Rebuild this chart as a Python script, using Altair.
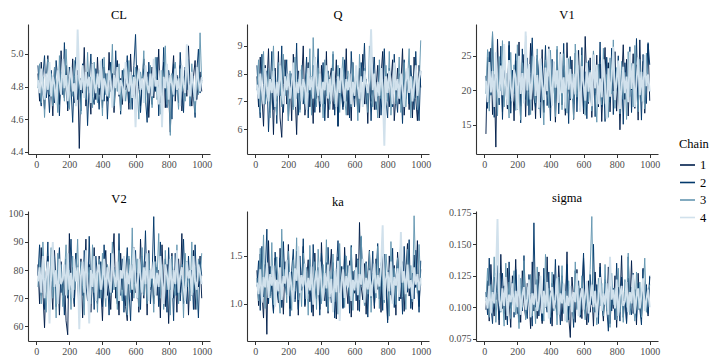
import altair as alt
import pandas as pd

chains = ["1", "2", "3", "4"]
chain_colors = ["#011f4b", "#03396c", "#6497b1", "#d1e1ec"]
chain_widths = [0.95, 0.95, 0.95, 1.9]
params = ["CL", "Q", "V1", "V2", "ka", "sigma"]
x_ticks = [0, 200, 400, 600, 800, 1000]

CL_1 = [4.88, 4.71, 4.95, 4.79, 4.66, 4.84, 4.99, 4.74, 4.83, 4.62, 4.91, 4.78, 4.87, 4.69, 5.02, 4.80, 4.73, 4.93, 4.65, 4.86, 4.77, 4.97, 4.70, 4.82, 4.90, 4.42, 4.85, 4.76, 5.04, 4.68, 4.89, 4.79, 4.63, 4.94, 4.81, 4.72, 4.98, 4.75, 4.86, 4.67, 4.92, 4.80, 4.71, 5.01, 4.77, 4.88, 4.64, 4.83, 4.96, 4.74, 4.85, 4.69, 4.90, 4.78, 4.82, 4.66, 5.00, 4.76, 4.87, 4.72, 4.93, 4.80, 4.68, 4.84, 4.97, 4.75, 4.89, 4.61, 4.83, 4.92, 4.73, 4.86, 4.79, 5.03, 4.70, 4.81, 4.95, 4.67, 4.88, 4.76, 4.52, 4.84, 4.99, 4.71, 4.87, 4.78, 4.93, 4.65, 4.82, 4.90, 4.74, 5.05, 4.79, 4.68, 4.86, 4.96, 4.72, 4.83, 4.89, 4.77]
CL_2 = [4.93, 4.76, 4.68, 4.87, 4.99, 4.73, 4.81, 4.64, 4.90, 4.78, 4.70, 4.96, 4.84, 4.62, 4.89, 4.75, 5.07, 4.80, 4.67, 4.92, 4.79, 4.58, 4.86, 4.98, 4.72, 4.83, 4.65, 4.94, 4.77, 4.88, 4.56, 4.82, 5.00, 4.74, 4.69, 4.91, 4.80, 4.66, 4.85, 4.97, 4.71, 4.88, 4.60, 4.83, 4.95, 4.77, 4.68, 5.02, 4.79, 4.86, 4.63, 4.90, 4.75, 4.84, 4.99, 4.70, 4.81, 4.66, 4.93, 5.12, 4.76, 4.87, 4.64, 4.82, 4.91, 4.73, 4.58, 4.95, 4.80, 4.69, 4.88, 4.77, 4.98, 4.62, 4.85, 4.72, 5.04, 4.79, 4.67, 4.90, 4.83, 4.60, 4.94, 4.75, 4.86, 4.70, 5.01, 4.81, 4.64, 4.92, 4.78, 4.97, 4.68, 4.87, 4.74, 4.61, 4.89, 5.03, 4.76, 4.84]
CL_3 = [4.79, 4.94, 4.70, 4.86, 4.61, 4.83, 4.97, 4.75, 4.88, 4.68, 4.92, 4.80, 4.64, 4.99, 4.77, 4.85, 4.71, 5.03, 4.82, 4.66, 4.89, 4.74, 4.96, 4.69, 4.87, 4.78, 4.63, 4.93, 4.81, 4.72, 5.01, 4.76, 4.86, 4.67, 4.95, 4.79, 4.70, 4.90, 4.84, 4.62, 4.98, 4.75, 4.88, 4.73, 4.82, 5.06, 4.68, 4.85, 4.77, 4.94, 4.65, 4.83, 4.91, 4.71, 4.80, 4.96, 4.66, 4.87, 4.74, 4.92, 4.79, 4.60, 4.89, 4.82, 5.02, 4.70, 4.86, 4.76, 4.93, 4.67, 4.84, 4.98, 4.72, 4.81, 4.63, 4.90, 4.78, 5.05, 4.69, 4.85, 4.50, 4.88, 4.74, 4.95, 4.80, 4.66, 4.91, 4.77, 4.86, 4.71, 5.00, 4.83, 4.68, 4.94, 4.79, 4.64, 4.89, 4.75, 5.13, 4.82]
CL_4 = [4.84, 4.76, 4.91, 4.80, 4.72, 4.88, 4.78, 4.95, 4.74, 4.86, 4.81, 4.69, 4.90, 4.83, 4.75, 4.97, 4.79, 4.87, 4.71, 4.84, 4.92, 4.77, 4.82, 4.68, 5.15, 4.85, 4.78, 4.93, 4.73, 4.89, 4.80, 4.86, 4.70, 4.94, 4.82, 4.76, 4.88, 4.79, 4.96, 4.72, 4.85, 4.81, 4.74, 4.90, 4.83, 4.67, 4.87, 4.79, 4.92, 4.75, 4.84, 4.80, 4.71, 4.95, 4.82, 4.77, 4.89, 4.73, 4.86, 4.55, 4.83, 4.91, 4.78, 4.85, 4.70, 4.93, 4.81, 4.76, 4.88, 4.74, 4.97, 4.80, 4.84, 4.69, 4.90, 4.55, 4.86, 4.79, 4.94, 4.72, 4.87, 4.82, 4.75, 4.91, 4.78, 4.85, 4.68, 4.93, 4.81, 4.76, 5.06, 4.83, 4.74, 4.89, 4.80, 4.71, 4.92, 4.84, 4.77, 4.86]

Q_1 = [7.9, 6.8, 8.6, 7.2, 6.1, 8.3, 7.5, 8.9, 6.6, 7.8, 5.8, 8.2, 7.0, 8.8, 6.4, 5.7, 7.6, 8.5, 6.9, 7.3, 8.0, 6.3, 8.7, 7.4, 5.8, 8.1, 6.7, 7.7, 9.0, 6.5, 7.2, 8.4, 6.8, 7.9, 6.2, 8.6, 7.1, 7.6, 6.6, 8.3, 7.4, 6.9, 8.8, 6.4, 7.8, 8.2, 6.7, 7.3, 8.5, 6.1, 7.7, 8.0, 6.8, 7.2, 8.9, 6.5, 7.9, 6.3, 8.4, 7.1, 7.6, 6.6, 8.2, 7.4, 8.7, 6.9, 7.8, 6.2, 8.1, 7.0, 8.6, 6.7, 7.5, 8.3, 6.4, 7.9, 8.8, 6.6, 7.3, 8.0, 6.8, 7.7, 8.5, 6.3, 7.2, 8.2, 6.9, 7.6, 8.9, 6.5, 7.4, 8.1, 6.7, 7.9, 6.4, 8.6, 7.1, 6.3, 8.3, 7.5]
Q_2 = [8.3, 7.1, 6.4, 8.7, 7.6, 6.9, 8.1, 5.9, 7.4, 8.8, 6.7, 7.9, 6.2, 8.4, 7.2, 9.0, 6.6, 7.8, 8.5, 6.3, 7.5, 8.0, 6.8, 7.3, 9.1, 6.5, 7.7, 8.2, 6.9, 7.4, 8.6, 6.4, 7.9, 7.1, 8.3, 6.6, 7.7, 8.9, 6.8, 7.2, 8.4, 6.3, 7.6, 8.1, 6.9, 7.4, 8.7, 6.5, 7.8, 6.1, 8.2, 7.3, 6.7, 8.5, 7.0, 7.9, 6.4, 8.8, 7.5, 6.8, 8.1, 7.2, 6.6, 8.4, 7.7, 9.1, 6.9, 7.4, 8.0, 6.3, 7.8, 8.6, 6.7, 7.2, 8.3, 6.5, 7.6, 8.9, 7.0, 6.4, 8.2, 7.5, 6.8, 8.7, 7.3, 6.6, 8.0, 7.7, 6.2, 8.5, 7.1, 7.9, 6.9, 8.3, 7.4, 6.7, 8.8, 7.2, 6.3, 8.1]
Q_3 = [7.4, 8.5, 6.6, 7.9, 8.8, 6.9, 7.3, 8.2, 6.4, 7.7, 9.0, 7.0, 6.5, 8.4, 7.6, 6.8, 8.7, 7.2, 7.9, 6.3, 8.1, 7.5, 6.7, 8.6, 7.1, 7.8, 6.6, 8.3, 7.4, 6.9, 8.0, 7.3, 8.9, 6.5, 9.3, 7.6, 6.8, 8.2, 7.0, 7.7, 6.4, 8.5, 7.2, 8.0, 6.7, 7.5, 8.8, 6.9, 7.3, 8.3, 6.6, 7.8, 8.6, 7.1, 6.5, 8.1, 7.6, 6.8, 8.4, 7.2, 7.9, 6.3, 8.7, 7.4, 6.9, 8.2, 7.7, 6.6, 9.0, 7.3, 6.8, 8.0, 7.5, 6.4, 8.5, 7.1, 7.8, 6.7, 8.3, 7.0, 8.8, 6.5, 7.6, 8.1, 6.9, 7.4, 8.6, 6.6, 7.2, 8.4, 6.8, 7.7, 8.9, 6.4, 7.9, 7.1, 8.2, 6.7, 7.5, 9.2]
Q_4 = [7.6, 7.1, 8.0, 7.4, 6.9, 8.2, 7.5, 7.0, 7.8, 7.3, 8.1, 6.8, 7.7, 7.2, 8.3, 7.5, 6.9, 7.9, 7.4, 8.0, 7.1, 7.6, 8.4, 6.8, 7.7, 7.3, 8.1, 7.0, 7.8, 7.5, 6.7, 8.2, 7.4, 7.9, 7.1, 8.6, 7.6, 7.2, 8.0, 6.9, 7.7, 7.4, 8.3, 7.1, 7.8, 7.0, 8.1, 7.5, 6.8, 7.9, 7.3, 8.2, 7.6, 7.0, 7.8, 7.4, 8.0, 6.9, 7.7, 7.2, 8.3, 7.5, 7.1, 7.9, 6.8, 8.1, 7.6, 7.3, 7.8, 9.6, 7.4, 8.0, 7.0, 7.7, 7.2, 8.2, 7.5, 5.4, 7.9, 7.3, 8.1, 7.6, 6.9, 8.4, 7.4, 7.8, 7.1, 8.0, 7.5, 6.8, 7.7, 8.2, 7.3, 7.9, 7.0, 7.6, 8.3, 7.2, 7.8, 8.1]

V1_1 = [13.7, 24.8, 18.2, 26.1, 16.5, 22.3, 11.8, 27.4, 19.6, 23.9, 16.9, 25.7, 20.4, 17.3, 26.5, 18.8, 22.9, 15.6, 24.3, 19.1, 27.0, 17.7, 21.5, 25.2, 16.2, 23.4, 19.8, 26.8, 17.1, 22.6, 15.9, 24.6, 20.7, 18.3, 25.9, 16.8, 23.1, 19.4, 26.3, 17.5, 21.9, 24.1, 15.4, 22.8, 19.0, 25.5, 17.9, 23.6, 16.4, 26.9, 20.2, 18.6, 24.4, 15.8, 22.1, 19.7, 25.8, 17.2, 23.3, 16.6, 27.8, 20.9, 18.1, 24.7, 16.1, 22.5, 19.3, 25.1, 17.6, 23.8, 15.5, 21.6, 26.2, 18.4, 24.0, 16.9, 22.7, 19.9, 25.6, 17.0, 23.2, 14.3, 21.3, 26.6, 18.7, 24.5, 16.3, 22.2, 20.1, 25.3, 17.4, 23.7, 15.7, 27.3, 19.2, 24.2, 16.7, 22.4, 26.7, 18.5]
V1_2 = [22.1, 17.4, 25.6, 19.3, 28.2, 16.1, 23.8, 20.6, 17.9, 26.4, 15.8, 24.2, 21.0, 18.4, 27.1, 16.7, 22.9, 19.5, 25.3, 17.2, 23.5, 15.3, 26.0, 20.1, 18.7, 24.7, 16.4, 22.4, 27.6, 19.0, 17.5, 25.1, 21.7, 16.0, 23.9, 19.8, 26.5, 17.8, 22.0, 15.6, 24.5, 20.4, 18.2, 25.9, 16.6, 23.3, 19.1, 26.8, 17.0, 22.6, 15.2, 24.9, 20.8, 18.0, 25.4, 16.9, 23.0, 19.6, 26.2, 17.3, 22.7, 15.9, 24.3, 20.0, 17.7, 25.7, 16.2, 23.6, 19.4, 27.0, 17.6, 22.2, 15.5, 24.8, 20.5, 18.3, 26.1, 16.5, 23.2, 19.9, 25.0, 17.1, 22.8, 15.1, 24.0, 20.3, 18.9, 26.3, 16.8, 23.4, 19.2, 27.5, 17.4, 22.5, 15.7, 25.2, 20.7, 18.1, 26.9, 23.7]
V1_3 = [19.5, 25.9, 17.0, 23.1, 28.5, 18.6, 21.8, 16.3, 24.9, 19.9, 27.2, 17.6, 22.5, 20.2, 16.0, 25.5, 18.9, 23.7, 17.1, 26.6, 20.6, 15.7, 24.0, 19.2, 27.9, 17.8, 22.2, 16.5, 25.0, 20.0, 18.2, 26.0, 17.3, 23.5, 19.6, 15.0, 24.4, 21.2, 17.5, 25.8, 18.5, 22.7, 16.2, 26.4, 19.4, 23.0, 17.2, 25.3, 20.4, 16.7, 24.6, 18.8, 22.4, 15.9, 26.7, 19.0, 23.6, 17.7, 25.1, 20.9, 16.4, 24.1, 18.3, 22.9, 17.0, 25.7, 19.7, 15.4, 23.8, 20.3, 17.9, 26.1, 18.1, 22.3, 16.1, 24.7, 19.5, 27.3, 17.4, 23.3, 20.7, 16.6, 24.2, 18.7, 22.6, 15.8, 25.6, 19.1, 23.9, 17.6, 26.5, 20.1, 16.9, 24.5, 18.4, 22.0, 17.3, 25.4, 21.4, 19.8]
V1_4 = [21.4, 18.3, 24.1, 19.7, 22.8, 17.6, 25.5, 20.2, 18.9, 23.6, 19.3, 26.7, 21.1, 17.9, 24.4, 20.6, 18.4, 23.0, 21.8, 17.2, 25.0, 19.5, 22.5, 18.1, 28.5, 20.0, 23.8, 18.7, 21.6, 24.9, 19.2, 22.2, 17.5, 24.6, 20.8, 18.6, 23.3, 19.9, 26.0, 21.3, 17.8, 24.2, 20.4, 22.9, 18.2, 25.3, 19.6, 21.9, 17.4, 24.7, 20.1, 23.1, 18.8, 22.4, 19.4, 25.8, 20.7, 16.9, 23.5, 21.0, 18.5, 24.0, 19.8, 22.6, 17.7, 25.2, 20.3, 23.7, 18.0, 21.7, 19.0, 24.5, 20.9, 15.9, 23.2, 19.1, 22.1, 26.3, 18.6, 21.5, 24.3, 17.3, 20.5, 23.4, 19.6, 22.0, 18.3, 25.6, 20.2, 23.9, 17.6, 21.2, 24.8, 19.3, 22.7, 18.4, 25.1, 20.6, 22.3, 19.9]

V2_1 = [82, 68, 88, 72, 59.5, 79, 85, 70, 76, 66, 87, 74, 80, 64, 83, 71, 78, 62, 57, 93, 73, 81, 67, 86, 75, 69, 84, 63, 78, 91, 70, 82, 65, 77, 88, 72, 68, 85, 74, 62, 80, 87, 71, 76, 66, 83, 93, 70, 78, 64, 86, 73, 81, 67, 62, 84, 75, 69, 88, 72, 79, 65, 91, 76, 70, 83, 64, 87, 73, 78, 68, 85, 71, 80, 63, 89, 74, 67, 82, 61, 77, 86, 70, 79, 65, 84, 72, 93, 68, 76, 83, 64, 80, 71, 87, 66, 78, 74, 85, 70]
V2_2 = [78, 89, 71, 83, 66, 75, 90, 69, 81, 73, 85, 67, 79, 88, 72, 76, 64, 84, 70, 80, 91, 74, 68, 86, 77, 63, 82, 71, 87, 75, 69, 92, 73, 80, 66, 85, 78, 70, 83, 67, 89, 74, 79, 64, 86, 72, 81, 76, 68, 93, 71, 84, 65, 79, 88, 73, 62, 82, 75, 87, 70, 80, 66, 85, 77, 94, 72, 83, 68, 78, 99, 74, 81, 67, 90, 76, 70, 84, 65, 88, 73, 79, 62, 86, 71, 82, 69, 77, 91, 74, 68, 85, 72, 80, 66, 89, 75, 63, 83, 78]
V2_3 = [74, 84, 68, 90, 77, 65, 81, 72, 88, 70, 79, 63, 86, 75, 82, 67, 78, 89, 71, 80, 66, 85, 73, 77, 91, 69, 83, 74, 64, 87, 76, 81, 68, 89, 72, 79, 65, 84, 70, 86, 75, 67, 82, 78, 71, 90, 73, 80, 66, 87, 74, 69, 83, 77, 64, 85, 72, 95, 70, 79, 84, 67, 76, 88, 71, 81, 68, 86, 74, 79, 65, 83, 77, 93, 70, 82, 66, 87, 73, 80, 64, 85, 75, 71, 89, 68, 78, 82, 63, 86, 74, 79, 69, 90, 72, 81, 66, 84, 76, 86]
V2_4 = [76, 81, 72, 85, 70, 78, 83, 61, 79, 90, 74, 80, 68, 84, 75, 77, 82, 71, 86, 73, 79, 70, 84, 76, 81, 59, 78, 83, 72, 87, 75, 61, 80, 74, 85, 69, 79, 82, 73, 77, 84, 70, 81, 76, 72, 86, 78, 74, 83, 69, 80, 77, 85, 71, 79, 75, 82, 73, 88, 76, 70, 84, 78, 72, 81, 75, 86, 69, 80, 77, 83, 71, 79, 74, 85, 76, 68, 82, 78, 73, 84, 70, 80, 75, 87, 72, 78, 81, 74, 69, 83, 77, 80, 71, 85, 76, 73, 82, 79, 75]

ka_1 = [1.35, 0.98, 1.52, 1.12, 0.85, 1.41, 0.68, 1.66, 1.08, 1.29, 0.92, 1.48, 1.17, 1.01, 1.58, 1.23, 0.89, 1.44, 1.10, 1.62, 0.95, 1.33, 1.19, 1.05, 1.55, 0.88, 1.38, 1.14, 1.60, 0.97, 1.27, 1.46, 1.02, 1.21, 0.87, 1.53, 1.09, 1.36, 0.94, 1.64, 1.16, 1.03, 1.43, 0.90, 1.31, 1.57, 1.07, 1.24, 0.84, 1.49, 1.13, 1.39, 0.96, 1.59, 1.20, 1.00, 1.45, 0.86, 1.34, 1.11, 1.52, 0.93, 1.85, 1.18, 1.04, 1.42, 0.89, 1.30, 1.56, 1.06, 1.25, 0.95, 1.47, 1.15, 1.37, 0.91, 1.61, 1.09, 1.28, 0.83, 1.50, 1.14, 1.02, 1.40, 0.88, 1.54, 1.22, 1.05, 1.44, 0.92, 1.32, 1.63, 1.08, 1.26, 0.94, 1.51, 1.17, 1.66, 0.97, 1.36]
ka_2 = [1.18, 1.45, 0.93, 1.60, 1.07, 1.31, 1.78, 1.00, 1.39, 1.12, 0.90, 1.54, 1.25, 1.04, 1.48, 0.96, 1.65, 1.20, 1.09, 1.42, 0.87, 1.35, 1.57, 1.02, 1.28, 0.94, 1.50, 1.15, 1.68, 0.99, 1.33, 1.10, 1.46, 0.91, 1.62, 1.22, 1.05, 1.38, 0.88, 1.53, 1.13, 1.30, 0.97, 1.59, 1.19, 1.01, 1.43, 0.85, 1.36, 1.66, 1.11, 1.26, 0.95, 1.51, 1.16, 1.40, 0.90, 1.61, 1.08, 1.34, 1.03, 1.47, 0.92, 1.70, 1.21, 1.06, 1.44, 0.86, 1.37, 1.14, 1.55, 0.98, 1.29, 1.63, 1.05, 1.41, 0.93, 1.52, 1.17, 0.80, 1.35, 1.09, 1.58, 0.96, 1.27, 1.48, 1.03, 1.39, 0.89, 1.60, 1.20, 1.12, 1.67, 0.95, 1.32, 1.05, 1.56, 1.23, 0.91, 1.45]
ka_3 = [1.27, 1.03, 1.58, 1.15, 1.72, 0.95, 1.40, 1.22, 1.06, 1.64, 0.99, 1.33, 1.49, 1.11, 0.90, 1.78, 1.18, 1.36, 1.01, 1.55, 1.24, 0.93, 1.46, 1.13, 1.69, 1.04, 1.30, 0.97, 1.53, 1.20, 1.38, 0.88, 1.61, 1.16, 1.07, 1.44, 0.94, 1.57, 1.25, 1.00, 1.41, 1.12, 1.67, 0.92, 1.34, 1.19, 1.52, 1.02, 1.28, 0.89, 1.63, 1.14, 1.39, 0.96, 1.50, 1.23, 1.08, 1.59, 0.93, 1.35, 1.17, 1.46, 1.04, 1.71, 1.21, 0.98, 1.42, 1.10, 1.55, 0.91, 1.32, 1.26, 1.06, 1.60, 0.95, 1.43, 1.18, 1.01, 1.52, 1.29, 0.87, 1.65, 1.13, 1.37, 0.99, 1.48, 1.24, 1.70, 1.07, 1.33, 0.94, 1.57, 1.16, 1.40, 1.02, 1.92, 1.28, 1.11, 1.62, 1.19]
ka_4 = [1.22, 1.10, 1.36, 1.01, 1.28, 1.17, 1.43, 1.06, 1.31, 1.19, 1.40, 0.97, 1.25, 1.13, 1.38, 1.04, 1.29, 1.21, 1.46, 1.08, 1.33, 1.15, 1.02, 1.37, 1.24, 1.60, 1.11, 1.30, 1.18, 1.42, 1.05, 1.27, 1.14, 1.39, 0.99, 1.23, 1.35, 1.09, 1.44, 1.20, 1.03, 1.32, 1.16, 1.41, 1.07, 1.26, 0.91, 1.34, 1.12, 1.45, 0.82, 1.21, 1.36, 1.06, 1.29, 1.17, 1.40, 1.03, 1.25, 1.14, 1.38, 1.09, 1.31, 1.20, 1.47, 1.01, 1.27, 1.15, 1.35, 1.08, 1.23, 1.42, 1.11, 1.30, 1.18, 1.39, 1.82, 1.04, 1.26, 1.33, 1.13, 1.44, 1.00, 1.28, 1.19, 1.37, 1.07, 1.75, 1.22, 1.34, 1.10, 1.41, 1.16, 1.25, 1.05, 1.38, 1.20, 1.31, 1.14, 1.27]

sigma_1 = [0.098, 0.121, 0.089, 0.134, 0.104, 0.093, 0.127, 0.111, 0.086, 0.142, 0.099, 0.117, 0.090, 0.131, 0.106, 0.084, 0.125, 0.101, 0.138, 0.095, 0.114, 0.088, 0.129, 0.103, 0.092, 0.119, 0.108, 0.083, 0.136, 0.097, 0.116, 0.091, 0.128, 0.105, 0.087, 0.122, 0.100, 0.140, 0.094, 0.113, 0.085, 0.126, 0.102, 0.096, 0.133, 0.109, 0.089, 0.118, 0.099, 0.144, 0.093, 0.076, 0.124, 0.107, 0.088, 0.130, 0.098, 0.115, 0.091, 0.139, 0.104, 0.086, 0.121, 0.096, 0.112, 0.085, 0.128, 0.101, 0.094, 0.135, 0.106, 0.089, 0.120, 0.097, 0.132, 0.087, 0.110, 0.099, 0.125, 0.084, 0.116, 0.103, 0.141, 0.092, 0.108, 0.088, 0.123, 0.100, 0.137, 0.095, 0.114, 0.086, 0.127, 0.102, 0.091, 0.131, 0.098, 0.118, 0.093, 0.124]
sigma_2 = [0.112, 0.094, 0.139, 0.101, 0.087, 0.124, 0.106, 0.133, 0.090, 0.115, 0.127, 0.095, 0.108, 0.086, 0.136, 0.099, 0.120, 0.092, 0.130, 0.104, 0.088, 0.117, 0.097, 0.141, 0.102, 0.091, 0.126, 0.110, 0.085, 0.167, 0.100, 0.122, 0.093, 0.114, 0.089, 0.131, 0.105, 0.096, 0.128, 0.087, 0.119, 0.101, 0.138, 0.094, 0.111, 0.086, 0.125, 0.103, 0.097, 0.134, 0.090, 0.116, 0.107, 0.084, 0.129, 0.099, 0.121, 0.092, 0.113, 0.143, 0.095, 0.109, 0.088, 0.126, 0.102, 0.150, 0.096, 0.118, 0.087, 0.132, 0.104, 0.093, 0.122, 0.100, 0.081, 0.128, 0.097, 0.115, 0.090, 0.135, 0.106, 0.089, 0.124, 0.098, 0.112, 0.087, 0.140, 0.101, 0.094, 0.127, 0.108, 0.091, 0.119, 0.099, 0.086, 0.130, 0.103, 0.117, 0.095, 0.125]
sigma_3 = [0.105, 0.131, 0.092, 0.118, 0.099, 0.140, 0.088, 0.114, 0.127, 0.096, 0.109, 0.085, 0.135, 0.102, 0.120, 0.091, 0.112, 0.129, 0.094, 0.106, 0.083, 0.123, 0.100, 0.137, 0.090, 0.116, 0.104, 0.126, 0.093, 0.111, 0.087, 0.132, 0.098, 0.119, 0.107, 0.089, 0.142, 0.101, 0.115, 0.092, 0.128, 0.097, 0.110, 0.086, 0.124, 0.103, 0.133, 0.095, 0.113, 0.088, 0.121, 0.100, 0.108, 0.091, 0.136, 0.098, 0.117, 0.094, 0.125, 0.104, 0.090, 0.113, 0.099, 0.130, 0.172, 0.096, 0.112, 0.086, 0.123, 0.101, 0.119, 0.093, 0.134, 0.097, 0.108, 0.084, 0.127, 0.102, 0.115, 0.090, 0.131, 0.096, 0.111, 0.088, 0.122, 0.100, 0.143, 0.094, 0.116, 0.105, 0.089, 0.128, 0.098, 0.120, 0.092, 0.113, 0.139, 0.096, 0.109, 0.118]
sigma_4 = [0.108, 0.099, 0.117, 0.095, 0.112, 0.103, 0.121, 0.170, 0.106, 0.097, 0.115, 0.101, 0.124, 0.093, 0.110, 0.104, 0.119, 0.096, 0.113, 0.100, 0.126, 0.094, 0.109, 0.116, 0.098, 0.107, 0.122, 0.092, 0.111, 0.102, 0.118, 0.097, 0.105, 0.125, 0.095, 0.113, 0.100, 0.120, 0.091, 0.108, 0.116, 0.099, 0.106, 0.123, 0.094, 0.111, 0.103, 0.119, 0.089, 0.109, 0.101, 0.117, 0.096, 0.112, 0.104, 0.127, 0.093, 0.107, 0.115, 0.098, 0.110, 0.121, 0.095, 0.105, 0.118, 0.100, 0.113, 0.092, 0.108, 0.124, 0.097, 0.111, 0.102, 0.119, 0.094, 0.140, 0.106, 0.114, 0.099, 0.122, 0.093, 0.109, 0.117, 0.101, 0.105, 0.120, 0.096, 0.112, 0.103, 0.126, 0.095, 0.108, 0.115, 0.099, 0.110, 0.123, 0.097, 0.106, 0.114, 0.100]

series = {
    "CL": [CL_1, CL_2, CL_3, CL_4],
    "Q": [Q_1, Q_2, Q_3, Q_4],
    "V1": [V1_1, V1_2, V1_3, V1_4],
    "V2": [V2_1, V2_2, V2_3, V2_4],
    "ka": [ka_1, ka_2, ka_3, ka_4],
    "sigma": [sigma_1, sigma_2, sigma_3, sigma_4],
}

y_ticks = {
    "CL": [4.4, 4.6, 4.8, 5.0],
    "Q": [6, 7, 8, 9],
    "V1": [15, 20, 25],
    "V2": [60, 70, 80, 90, 100],
    "ka": [1.0, 1.5],
    "sigma": [0.075, 0.100, 0.125, 0.150, 0.175],
}
y_formats = {"CL": ".1f", "Q": "d", "V1": "d", "V2": "d", "ka": ".1f", "sigma": ".3f"}
y_domains = {
    "CL": [4.386, 5.184],
    "Q": [5.10, 9.79],
    "V1": [10.8, 29.6],
    "V2": [54.8, 101.0],
    "ka": [0.61, 1.97],
    "sigma": [0.0732, 0.1764],
}
y_extent = {"CL": 18, "Q": 18, "V1": 28, "V2": 18, "ka": 18, "sigma": 28}

FONT = "Liberation Serif"

axis_style = dict(
    labelFont=FONT,
    labelFontSize=10,
    labelColor="#4d4d4d",
    domainColor="#333333",
    domainWidth=1.1,
    tickColor="#333333",
    tickWidth=1,
    tickSize=3.5,
    labelPadding=1.5,
    grid=False,
    title=None,
)

legend = alt.Legend(
    title="Chain",
    orient="none",
    legendX=651,
    legendY=114,
    symbolType="stroke",
    symbolStrokeWidth=1.6,
    symbolSize=225,
    titleFontSize=12.5,
    titleFontWeight="normal",
    titleFont=FONT,
    titleColor="#000000",
    labelFont=FONT,
    labelFontSize=12.5,
    labelColor="#000000",
    rowPadding=2.5,
    titlePadding=6,
)


def make_panel(name):
    rows = []
    for ch, vals in zip(chains, series[name]):
        n = len(vals)
        for i, v in enumerate(vals):
            rows.append({"chain": ch, "iteration": (i + 1) * 1000.0 / n, "value": v})
    df = pd.DataFrame(rows)
    layers = []
    for ch, sw in zip(chains, chain_widths):
        layers.append(
            alt.Chart(df)
            .transform_filter(alt.datum.chain == ch)
            .mark_line(strokeWidth=sw)
            .encode(
                x=alt.X(
                    "iteration:Q",
                    scale=alt.Scale(domain=[-50, 1050], nice=False, zero=False),
                    axis=alt.Axis(values=x_ticks, format="d",
                                  minExtent=17, maxExtent=17, **axis_style),
                ),
                y=alt.Y(
                    "value:Q",
                    scale=alt.Scale(domain=y_domains[name], nice=False, zero=False),
                    axis=alt.Axis(values=y_ticks[name], format=y_formats[name],
                                  minExtent=y_extent[name], maxExtent=y_extent[name],
                                  **axis_style),
                ),
                color=alt.Color(
                    "chain:N",
                    scale=alt.Scale(domain=chains, range=chain_colors),
                    legend=legend,
                ),
            )
        )
    return alt.layer(*layers).properties(
        width=182,
        height=130,
        title=alt.TitleParams(name, font=FONT, fontSize=12.5, fontWeight="normal",
                              color="#000000", anchor="middle", offset=3),
    )


panels = [make_panel(p) for p in params]
row1 = alt.hconcat(panels[0], panels[1], panels[2], spacing=17)
row2 = alt.hconcat(panels[3], panels[4], panels[5], spacing=17)

chart = (
    alt.vconcat(row1, row2, spacing=21)
    .properties(padding=0, background="white")
    .configure_view(stroke=None)
)

chart.save("out.html", embed_options={"renderer": "svg", "actions": False})
